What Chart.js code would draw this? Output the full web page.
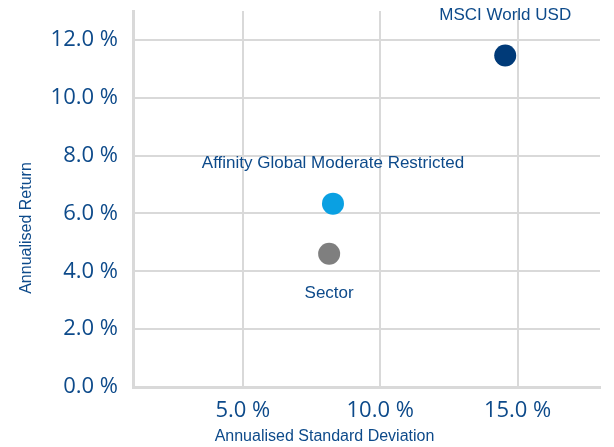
<!DOCTYPE html>
<html>
<head>
<meta charset="utf-8">
<script src="https://cdn.jsdelivr.net/npm/chart.js@4/dist/chart.umd.min.js"></script>
<style>
html,body{margin:0;padding:0;background:#fff;}
#wrap{width:614px;height:447px;position:relative;}
</style>
</head>
<body>
<div id="wrap"><canvas id="c"></canvas></div>
<script>
// Data
const seriesNames = ["MSCI World USD", "Affinity Global Moderate Restricted", "Sector"];
const stdDev = [14.55, 8.28, 8.14];       // Annualised Standard Deviation (%)
const annReturn = [11.46, 6.34, 4.61];    // Annualised Return (%)
const pointColors = ["#003a78", "#0aa0e2", "#7f7f7f"];
const labelSide = ["above", "above", "below"];
const xTicks = [5, 10, 15];
const yTicks = [0, 2, 4, 6, 8, 10, 12];
const xTitle = "Annualised Standard Deviation";
const yTitle = "Annualised Return";

const textColor = "#0d4a8a";
const gridColor = "#d9d9d9";

const datasets = seriesNames.map((n, i) => ({
  label: n,
  data: [{x: stdDev[i], y: annReturn[i]}],
  backgroundColor: pointColors[i],
  borderColor: pointColors[i],
  pointRadius: 11,
  pointHoverRadius: 11,
  borderWidth: 0
}));

const labelPlugin = {
  id: 'pointLabels',
  afterDatasetsDraw(chart) {
    const ctx = chart.ctx;
    ctx.save();
    ctx.font = '17px "Liberation Sans", Arial, sans-serif';
    ctx.fillStyle = textColor;
    ctx.textAlign = 'center';
    ctx.textBaseline = 'middle';
    chart.data.datasets.forEach((ds, i) => {
      const el = chart.getDatasetMeta(i).data[0];
      const dy = labelSide[i] === 'above' ? -40 : 40;
      ctx.fillText(ds.label, el.x, el.y + dy);
    });
    ctx.restore();
  }
};

const titlePlugin = {
  id: 'axisTitles',
  afterDraw(chart) {
    const ctx = chart.ctx;
    ctx.save();
    ctx.font = '16px "Liberation Sans", Arial, sans-serif';
    ctx.fillStyle = textColor;
    ctx.textAlign = 'center';
    ctx.textBaseline = 'middle';
    ctx.fillText(xTitle, 324.5, 437);
    ctx.translate(27, 228);
    ctx.rotate(-Math.PI / 2);
    ctx.fillText(yTitle, 0, 0);
    ctx.restore();
  }
};

new Chart(document.getElementById('c'), {
  type: 'scatter',
  data: { datasets },
  options: {
    responsive: true,
    maintainAspectRatio: false,
    animation: false,
    layout: { padding: { top: 9, right: 14, left: 0, bottom: 0 } },
    plugins: { legend: { display: false }, tooltip: { enabled: false } },
    scales: {
      x: {
        type: 'linear',
        min: 1, max: 18,
        afterBuildTicks: (s) => { s.ticks = xTicks.map(v => ({value: v})); },
        afterFit: (s) => { s.height = 60; s.paddingLeft = 0; s.paddingRight = 0; },
        grid: { color: gridColor, lineWidth: 2, drawTicks: false },
        border: { color: gridColor, width: 3 },
        ticks: {
          padding: 11,
          color: textColor,
          font: { family: '"Open Sans", sans-serif', size: 22 },
          callback: (v) => v.toFixed(1) + ' %'
        }
      },
      y: {
        type: 'linear',
        min: 0, max: 13,
        afterBuildTicks: (s) => { s.ticks = yTicks.map(v => ({value: v})); },
        afterFit: (s) => { s.width = 133; s.paddingTop = 0; s.paddingBottom = 0; },
        grid: { color: gridColor, lineWidth: 2, drawTicks: false },
        border: { color: gridColor, width: 3 },
        ticks: {
          padding: 15,
          color: textColor,
          font: { family: '"Open Sans", sans-serif', size: 22 },
          callback: (v) => v.toFixed(1) + ' %'
        }
      }
    }
  },
  plugins: [labelPlugin, titlePlugin]
});
</script>
</body>
</html>
